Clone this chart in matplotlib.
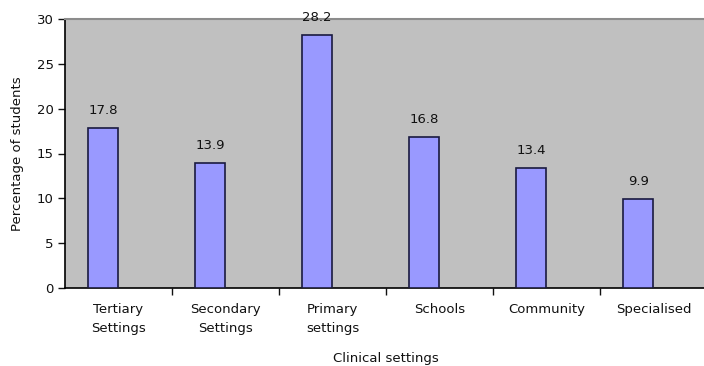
import matplotlib
matplotlib.use("Agg")
import matplotlib.pyplot as plt
import numpy as np

categories = ["Tertiary\nSettings", "Secondary\nSettings", "Primary\nsettings",
              "Schools", "Community", "Specialised"]
values = [17.8, 13.9, 28.2, 16.8, 13.4, 9.9]
value_labels = ["17.8", "13.9", "28.2", "16.8", "13.4", "9.9"]
yticks = [0, 5, 10, 15, 20, 25, 30]

plt.rcParams['font.family'] = ['DejaVu Sans']
fig = plt.figure(figsize=(7.04, 3.66), dpi=100)
fig.patch.set_facecolor('white')
ax = fig.add_axes([65/704, 78/366, 642/704, 269/366])
ax.set_facecolor('#c0c0c0')

x = np.arange(len(categories))
offset = -0.144
width = 0.287
bars = ax.bar(x + offset, values, width=width, color='#9999ff',
              edgecolor='#1a1a40', linewidth=1.2, zorder=3)
for xi, v, lab in zip(x, values, value_labels):
    ax.annotate(lab, (xi + offset, v), xytext=(0, 8), textcoords='offset points',
                ha='center', va='bottom', fontsize=9.5, color='#111111')

ax.set_xlim(-0.5, len(categories) - 0.5)
ax.set_ylim(0, 30)
ax.set_yticks(yticks)
ax.set_yticklabels([str(t) for t in yticks], fontsize=9.5)
ax.tick_params(axis='y', direction='out', length=5, width=1, pad=3, colors='#111111')

ax.set_xticks(np.arange(len(categories) - 1) + 0.5)
ax.set_xticklabels([])
ax.tick_params(axis='x', which='major', direction='out', length=5, width=1, colors='#111111')
ax.set_xticks(x, minor=True)
ax.set_xticklabels(categories, minor=True, fontsize=9.5, linespacing=1.6)
ax.tick_params(axis='x', which='minor', length=0, pad=11, colors='#111111')

for s in ['left', 'bottom']:
    ax.spines[s].set_color('black')
    ax.spines[s].set_linewidth(1.2)
ax.spines['top'].set_color('#8c8c8c')
ax.spines['top'].set_linewidth(1.5)
ax.spines['right'].set_visible(False)

ax.set_ylabel("Percentage of students", fontsize=9.5, labelpad=9, color='#111111')
ax.set_xlabel("Clinical settings", fontsize=9.5, labelpad=12, color='#111111')

fig.savefig("out.png", dpi=100, facecolor='white')
